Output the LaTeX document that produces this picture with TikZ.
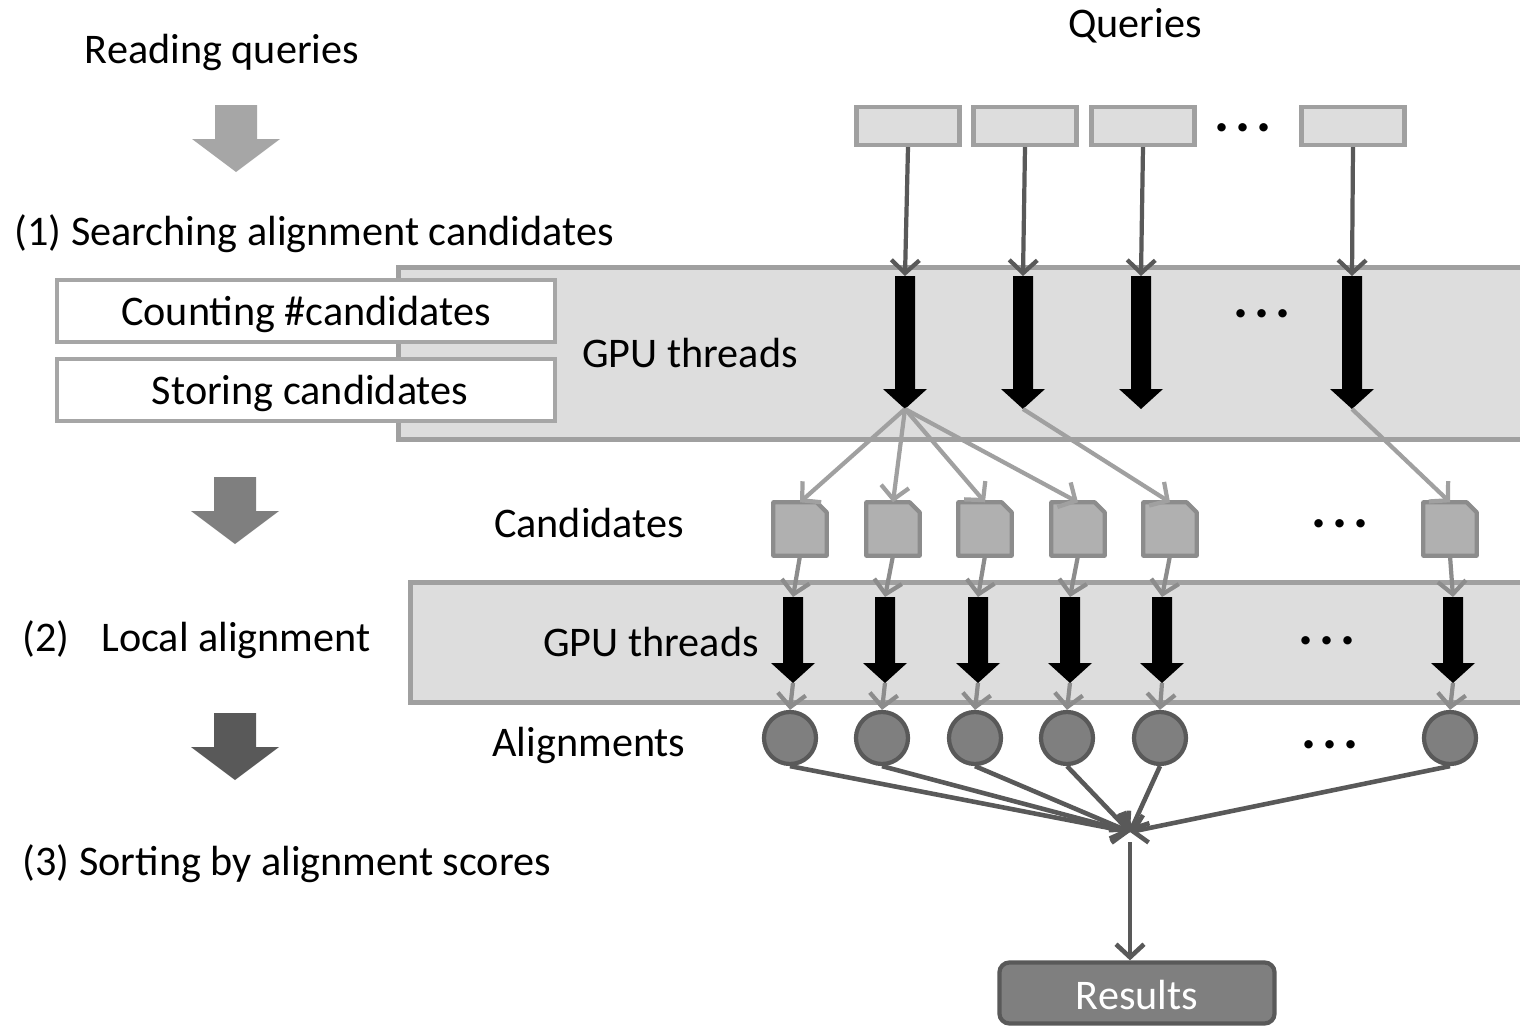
\documentclass[tikz,border=0pt]{standalone}
\usepackage{fontspec}
\setmainfont{Carlito}
\usetikzlibrary{arrows.meta}
\definecolor{panelfill}{HTML}{DDDDDD}
\definecolor{paneledge}{HTML}{A0A0A0}
\definecolor{dk}{HTML}{595959}
\definecolor{md}{HTML}{7F7F7F}
\definecolor{lt}{HTML}{A6A6A6}
\definecolor{candfill}{HTML}{B0B0B0}
\definecolor{candedge}{HTML}{8C8C8C}
\begin{document}
\begin{tikzpicture}[x=0.01cm,y=-0.01cm,
  every node/.style={font=\fontsize{12pt}{14pt}\selectfont, inner sep=0pt},
  panel/.style={draw=paneledge, fill=panelfill, line width=1.4pt},
  qbox/.style={draw=paneledge, fill=panelfill, line width=1.2pt, minimum width=1.03cm, minimum height=0.38cm},
  stepbox/.style={draw=lt, fill=white, line width=1.2pt, minimum width=4.98cm, minimum height=0.62cm},
  cand/.style={minimum width=0.52cm, minimum height=0.52cm},
  candshape/.style={draw=candedge, fill=candfill, line width=1.2pt, line join=round},
  aln/.style={circle, draw=dk, fill=md, line width=1.2pt, minimum size=0.52cm},
  resbox/.style={rounded corners=0.1cm, draw=dk, fill=md, line width=1.2pt, minimum width=2.75cm, minimum height=0.61cm},
  tip/.style={-{Straight Barb[length=0.13cm,width=0.28cm]}},
  qline/.style={tip, draw=dk, line width=1.2pt},
  cline/.style={tip, draw=paneledge, line width=1.2pt},
  gline/.style={tip, draw=candedge, line width=1.2pt},
  mline/.style={tip, draw=dk, line width=1.3pt},
  dots/.style={font=\fontsize{16pt}{18pt}\selectfont\bfseries, anchor=base},
  bigarrow/.pic={
    \coordinate (-top) at (0,0);
    \coordinate (-tip) at (0,#1);
    \fill[black] (-10,0) -- (10,0) -- (10,{#1-20}) -- (22,{#1-20}) -- (0,#1) -- (-22,{#1-20}) -- (-10,{#1-20}) -- cycle;
  },
  steparrow/.pic={
    \fill[#1] (-21,0) -- (21,0) -- (21,34) -- (44,34) -- (0,67) -- (-44,34) -- (-21,34) -- cycle;
  }
]
\newcommand{\threedots}{.\kern0.06cm.\kern0.06cm.}
\useasboundingbox (0,0) rectangle (1520,1027);
\clip (0,0) rectangle (1520,1027);
\fill[white] (0,0) rectangle (1520,1027);

% left column
\node (tread) at (222,52) {Reading queries};
\pic at (236,105) {steparrow=lt};
\node[anchor=west] (tsearch) at (14,234) {(1) Searching alignment candidates};

% panel 1
\node[panel, minimum width=11.4cm, minimum height=1.72cm, anchor=north west] (panel1) at (396,265) {};
\node[stepbox] (count) at (306,311) {};
\node (countlbl) at (306,314) {Counting \#candidates};
\node[stepbox] (store) at (306,390) {};
\node (storelbl) at (310,393) {Storing candidates};
\node (gpu1) at (690,353) {GPU threads};

\pic at (235,477) {steparrow=md};
\node[anchor=west] (tlocal) at (22,640) {(2)\hspace{0.75em}Local alignment};
\pic at (235,713) {steparrow=dk};
\node[anchor=west] (tsort) at (22,864) {(3) Sorting by alignment scores};

% queries
\node (tq) at (1135,26) {Queries};
\node[qbox] (q1) at (908,126) {};
\node[qbox] (q2) at (1025,126) {};
\node[qbox] (q3) at (1143,126) {};
\node[qbox] (q4) at (1353,126) {};
\node[dots] (d1) at (1243,131) {\threedots};

% black arrows row 1
\pic (B1) at (905,276) {bigarrow=133};
\pic (B2) at (1023,276) {bigarrow=133};
\pic (B3) at (1141,276) {bigarrow=133};
\pic (B4) at (1352,276) {bigarrow=133};
\node[dots] (d2) at (1262,317) {\threedots};

\draw[qline] (q1.south) -- (B1-top);
\draw[qline] (q2.south) -- (B2-top);
\draw[qline] (q3.south) -- (B3-top);
\draw[qline] (q4.south) -- (B4-top);

% panel 2
\node[panel, minimum width=11.3cm, minimum height=1.2cm, anchor=north west] (panel2) at (408,580) {};
\node (gpu2) at (651,642) {GPU threads};

% candidates
\node (tcand) at (589,523) {Candidates};
\node[cand] (c1) at (800,529) {};
\node[cand] (c2) at (893,529) {};
\node[cand] (c3) at (985,529) {};
\node[cand] (c4) at (1078,529) {};
\node[cand] (c5) at (1170,529) {};
\node[cand] (c6) at (1450,529) {};
\foreach \c in {c1,c2,c3,c4,c5,c6}{
  \path[candshape] (\c.south west) -- (\c.north west) -- ([xshift=-0.1cm]\c.north east)
     -- ([yshift=-0.1cm]\c.north east) -- (\c.south east) -- cycle;
}
\node[dots] (d3) at (1340,527) {\threedots};

\draw[cline] (B1-tip) -- (c1.north);
\draw[cline] (B1-tip) -- (c2.north);
\draw[cline] (B1-tip) -- (c3.north);
\draw[cline] (B1-tip) -- (c4.north);
\draw[cline] (B2-tip) -- (c5.north);
\draw[cline] (B4-tip) -- (c6.north);

% black arrows row 2
\pic (R1) at (793,597) {bigarrow=86};
\pic (R2) at (885,597) {bigarrow=86};
\pic (R3) at (978,597) {bigarrow=86};
\pic (R4) at (1070,597) {bigarrow=86};
\pic (R5) at (1162,597) {bigarrow=86};
\pic (R6) at (1453,597) {bigarrow=86};
\node[dots] (d4) at (1327,644) {\threedots};

\draw[gline] (c1.south) -- (R1-top);
\draw[gline] (c2.south) -- (R2-top);
\draw[gline] (c3.south) -- (R3-top);
\draw[gline] (c4.south) -- (R4-top);
\draw[gline] (c5.south) -- (R5-top);
\draw[gline] (c6.south) -- (R6-top);

% alignments
\node (taln) at (589,745) {Alignments};
\node[aln] (a1) at (790,738) {};
\node[aln] (a2) at (882,738) {};
\node[aln] (a3) at (975,738) {};
\node[aln] (a4) at (1067,738) {};
\node[aln] (a5) at (1160,738) {};
\node[aln] (a6) at (1450,738) {};
\node[dots] (d5) at (1330,748) {\threedots};

\draw[gline] (R1-tip) -- (a1.north);
\draw[gline] (R2-tip) -- (a2.north);
\draw[gline] (R3-tip) -- (a3.north);
\draw[gline] (R4-tip) -- (a4.north);
\draw[gline] (R5-tip) -- (a5.north);
\draw[gline] (R6-tip) -- (a6.north);

% merge
\coordinate (m) at (1130,832);
\coordinate (m2) at (1130,842);
\draw[mline] (a1.south) -- (m);
\draw[mline] (a2.south) -- (m);
\draw[mline] (a3.south) -- (m);
\draw[mline] (a4.south) -- (m);
\draw[mline] (a5.south) -- (m);
\draw[mline] (a6.south) -- (m);

\node[resbox] (res) at (1137,993) {};
\node[text=white] (reslbl) at (1137,995) {Results};
\draw[mline] (m2) -- (m2 |- res.north);
\end{tikzpicture}
\end{document}
